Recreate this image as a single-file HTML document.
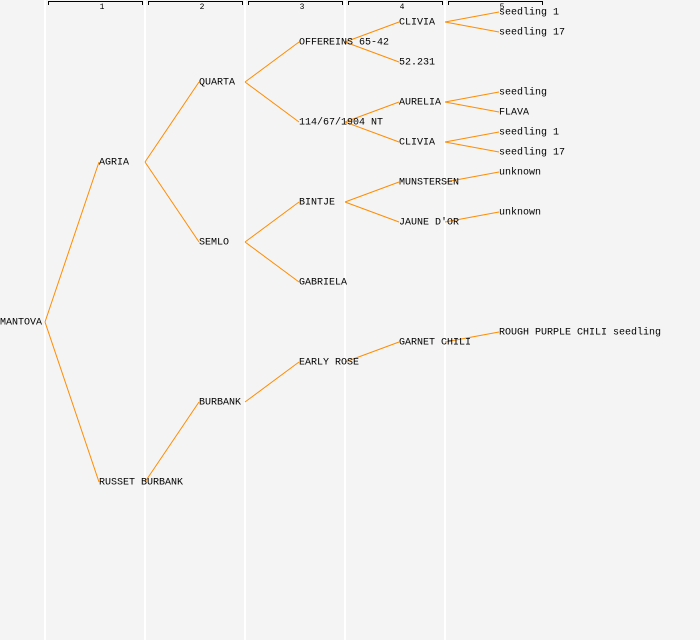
<!DOCTYPE html>
<html><head><style>
html,body{margin:0;padding:0;background:#f4f4f4;}
svg{display:block;}
text{font-family:"Liberation Mono",monospace;font-size:10px;fill:#000;dominant-baseline:middle;}
.n{font-size:8px;text-anchor:middle;}
</style></head><body>
<svg width="700" height="640" xmlns="http://www.w3.org/2000/svg">
<rect width="700" height="640" fill="#f4f4f4"/>
<g stroke="#fff" stroke-width="2">
<line x1="45" y1="0" x2="45" y2="640"/><line x1="145" y1="0" x2="145" y2="640"/>
<line x1="245" y1="0" x2="245" y2="640"/><line x1="345" y1="0" x2="345" y2="640"/>
<line x1="445" y1="0" x2="445" y2="640"/>
</g>
<g stroke="#000" stroke-width="1" fill="none">
<path d="M48.5 5V1.5H142.5V5"/><path d="M148.5 5V1.5H242.5V5"/><path d="M248.5 5V1.5H342.5V5"/>
<path d="M348.5 5V1.5H442.5V5"/><path d="M448.5 5V1.5H542.5V5"/>
</g>
<text class="n" x="102" y="7">1</text><text class="n" x="202" y="7">2</text><text class="n" x="302" y="7">3</text><text class="n" x="402" y="7">4</text><text class="n" x="502" y="7">5</text>
<g stroke="#ff8c00" stroke-width="1" fill="none">
<path d="M45 322L99 162M45 322L99 482"/>
<path d="M145 162L199 82M145 162L199 242M145 482L199 402"/>
<path d="M245 82L299 42M245 82L299 122M245 242L299 202M245 242L299 282M245 402L299 362"/>
<path d="M345 42L399 22M345 42L399 62M345 122L399 102M345 122L399 142M345 202L399 182M345 202L399 222M345 362L399 342"/>
<path d="M445 22L499 12M445 22L499 32M445 102L499 92M445 102L499 112M445 142L499 132M445 142L499 152M445 182L499 172M445 222L499 212M445 342L499 332"/>
</g>
<text x="0" y="322">MANTOVA</text>
<text x="99" y="162">AGRIA</text><text x="99" y="482">RUSSET BURBANK</text>
<text x="199" y="82">QUARTA</text><text x="199" y="242">SEMLO</text><text x="199" y="402">BURBANK</text>
<text x="299" y="42">OFFEREINS 65-42</text><text x="299" y="122">114/67/1904 NT</text><text x="299" y="202">BINTJE</text><text x="299" y="282">GABRIELA</text><text x="299" y="362">EARLY ROSE</text>
<text x="399" y="22">CLIVIA</text><text x="399" y="62">52.231</text><text x="399" y="102">AURELIA</text><text x="399" y="142">CLIVIA</text><text x="399" y="182">MUNSTERSEN</text><text x="399" y="222">JAUNE D'OR</text><text x="399" y="342">GARNET CHILI</text>
<text x="499" y="12">seedling 1</text><text x="499" y="32">seedling 17</text><text x="499" y="92">seedling</text><text x="499" y="112">FLAVA</text><text x="499" y="132">seedling 1</text><text x="499" y="152">seedling 17</text><text x="499" y="172">unknown</text><text x="499" y="212">unknown</text><text x="499" y="332">ROUGH PURPLE CHILI seedling</text>
</svg>
</body></html>
